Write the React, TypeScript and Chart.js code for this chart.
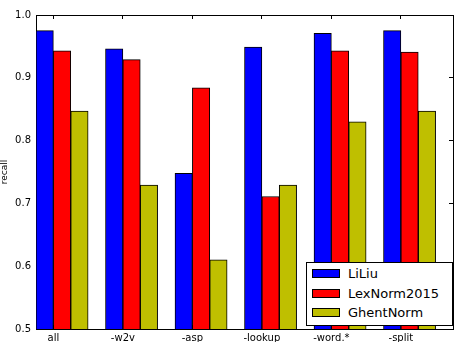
import React, { useEffect, useRef } from "react";
import { Chart, registerables } from "chart.js";

Chart.register(...registerables);

const categories = ["all", "-w2v", "-asp", "-lookup", "-word.*", "-split"];
const seriesNames = ["LiLiu", "LexNorm2015", "GhentNorm"];
const liliu = [0.975, 0.946, 0.748, 0.949, 0.971, 0.975];
const lexnorm = [0.943, 0.929, 0.884, 0.711, 0.943, 0.941];
const ghent = [0.847, 0.729, 0.61, 0.729, 0.83, 0.847];
const yLabel = "recall";

const seriesValues = [liliu, lexnorm, ghent];
const colors = ["#0000ff", "#ff0000", "#bfbf00"];
const BAR_W = 0.25;
const FONT = "'DejaVu Sans', sans-serif";

const catTicks = (scale: any) => {
  scale.ticks = categories.map((_, i) => ({ value: i + BAR_W }));
};

export default function App() {
  const ref = useRef<HTMLCanvasElement>(null);
  useEffect(() => {
    if (!ref.current) return;
    Chart.defaults.color = "#000";
    Chart.defaults.font.family = FONT;
    const chart = new Chart(ref.current, {
      type: "bar",
      data: {
        datasets: seriesValues.map((vals, k) => ({
          label: seriesNames[k],
          data: vals.map((v, i) => ({ x: i + BAR_W / 2 + BAR_W * k, y: v })),
          backgroundColor: colors[k],
          borderColor: "#000",
          borderWidth: 1,
          borderSkipped: false as any,
          grouped: false,
          categoryPercentage: 1,
          barPercentage: 1,
        })),
      },
      options: {
        animation: false,
        responsive: false,
        layout: { padding: { top: 7, right: 3, left: 0, bottom: 0 } },
        plugins: { legend: { display: false }, tooltip: { enabled: false } },
        scales: {
          x: {
            type: "linear",
            position: "bottom",
            min: 0,
            max: categories.length,
            offset: false,
            afterBuildTicks: catTicks,
            afterFit: (s: any) => { s.height = 13; },
            grid: { drawOnChartArea: false, tickLength: -4, color: "#000", offset: false },
            border: { display: true, color: "#000", width: 1 },
            ticks: {
              autoSkip: false,
              maxRotation: 0,
              padding: 7,
              font: { size: 10, family: FONT },
              callback: (v: any) => categories[Math.round(Number(v) - BAR_W)],
            },
          },
          x2: {
            type: "linear",
            position: "top",
            min: 0,
            max: categories.length,
            offset: false,
            afterBuildTicks: catTicks,
            afterFit: (s: any) => { s.height = 0; },
            grid: { drawOnChartArea: false, tickLength: -4, color: "#000", offset: false },
            border: { display: true, color: "#000", width: 1 },
            ticks: { display: false },
          },
          y: {
            type: "linear",
            position: "left",
            min: 0.5,
            max: 1.0,
            afterFit: (s: any) => { s.width = 36; },
            grid: { drawOnChartArea: false, tickLength: -4, color: "#000" },
            border: { display: true, color: "#000", width: 1 },
            ticks: {
              stepSize: 0.1,
              padding: 9,
              font: { size: 10, family: FONT },
              callback: (v: any) => Number(v).toFixed(1),
            },
            title: {
              display: true,
              text: yLabel,
              padding: 0,
              font: { size: 9, family: FONT, lineHeight: 1.1 },
            },
          },
          y2: {
            type: "linear",
            position: "right",
            min: 0.5,
            max: 1.0,
            afterFit: (s: any) => { s.width = 0; },
            grid: { drawOnChartArea: false, tickLength: -4, color: "#000" },
            border: { display: true, color: "#000", width: 1 },
            ticks: { display: false, stepSize: 0.1 },
          },
        },
      } as any,
    });
    return () => chart.destroy();
  }, []);

  return (
    <div style={{ position: "absolute", left: 0, top: 0, width: 456, height: 344, background: "#fff" }}>
      <canvas ref={ref} width={456} height={344} style={{ display: "block" }} />
      <div
        style={{
          position: "absolute",
          left: 306,
          top: 262,
          width: 147,
          height: 64,
          boxSizing: "border-box",
          border: "1px solid #000",
          background: "#fff",
          paddingTop: 1,
          fontFamily: FONT,
          fontSize: 13,
        }}
      >
        {seriesNames.map((name, k) => (
          <div key={name} style={{ display: "flex", alignItems: "center", height: 19.5, paddingLeft: 5 }}>
            <span
              style={{
                display: "inline-block",
                width: 28,
                height: 9,
                boxSizing: "border-box",
                border: "1px solid #000",
                background: colors[k],
                marginRight: 8,
              }}
            />
            <span style={{ lineHeight: "15px" }}>{name}</span>
          </div>
        ))}
      </div>
    </div>
  );
}
